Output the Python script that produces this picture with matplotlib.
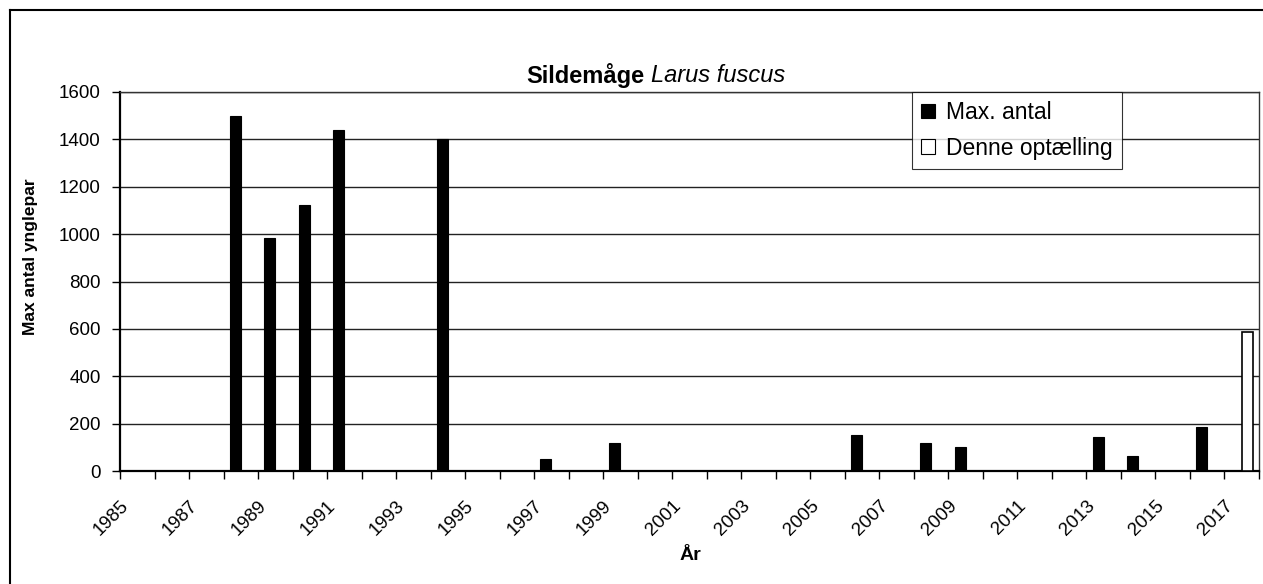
import numpy as np
import matplotlib
matplotlib.use("Agg")
import matplotlib.pyplot as plt
from matplotlib.patches import Patch
from matplotlib.lines import Line2D

# Sildemåge (Larus fuscus) - max antal ynglepar pr. år
years = list(range(1985, 2018))
max_years = [1988, 1989, 1990, 1991, 1994, 1997, 1999, 2006, 2008, 2009, 2013, 2014, 2016]
max_antal = [1500, 983, 1125, 1440, 1400, 50, 120, 152, 120, 100, 145, 65, 185]
denne_years = [2017]
denne_antal = [585]
yticks = [0, 200, 400, 600, 800, 1000, 1200, 1400, 1600]

plt.rcParams["font.family"] = ["Liberation Sans", "DejaVu Sans"]

W, H = 1263, 584
fig = plt.figure(figsize=(W / 100, H / 100), dpi=100)
ax = fig.add_axes([120 / W, 1 - 471 / H, (1259 - 120) / W, (471 - 92) / H])

n = len(years)
w = 0.32
xb = [years.index(y) - w / 2 for y in max_years]
xd = [years.index(y) + w / 2 for y in denne_years]
ax.bar(xb, max_antal, width=w, color="black", edgecolor="black", linewidth=0.8, zorder=3)
ax.bar(xd, denne_antal, width=w, color="white", edgecolor="black", linewidth=1.2, zorder=3)

ax.set_xlim(-0.5, n - 0.5)
ax.set_ylim(0, 1600)
ax.set_yticks(yticks)
ax.yaxis.grid(True, color="#222222", linewidth=1)
ax.set_axisbelow(True)
ax.tick_params(axis="y", labelsize=13.5, length=6, width=1, pad=8)

bounds = np.arange(n + 1) - 0.5
ax.set_xticks(bounds)
labels = [str(years[i]) if (i % 2 == 0 and i < n) else "" for i in range(n + 1)]
ax.set_xticklabels(labels, rotation=45, ha="right", va="top", rotation_mode="anchor")
ax.tick_params(axis="x", labelsize=13.5, length=6, width=1, pad=13)

for s in ["left", "bottom"]:
    ax.spines[s].set_linewidth(1.6)
for s in ["top", "right"]:
    ax.spines[s].set_linewidth(1.0)
    ax.spines[s].set_color("#333333")

handles = [Patch(facecolor="black", edgecolor="black", linewidth=0.8),
           Patch(facecolor="white", edgecolor="black", linewidth=0.8)]
leg = ax.legend(handles, ["Max. antal", "Denne optælling"], loc="upper left",
                bbox_to_anchor=((912 - 120) / (1259 - 120), 1.0), borderaxespad=0,
                fontsize=16.5, frameon=True, fancybox=False, handlelength=0.6,
                handleheight=0.6, handletextpad=0.5, labelspacing=0.55, borderpad=0.4)
leg.get_frame().set_edgecolor("black")
leg.get_frame().set_linewidth(0.8)

fig.text(644 / W, 1 - 75 / H, "Sildemåge", fontsize=17, fontweight="bold", ha="right", va="center")
fig.text(651 / W, 1 - 75 / H, "Larus fuscus", fontsize=17, fontstyle="italic", ha="left", va="center")
fig.text(31 / W, 1 - 257 / H, "Max antal ynglepar", fontsize=12.5, fontweight="bold",
         rotation=90, ha="center", va="center")
fig.text(690 / W, 1 - 555 / H, "År", fontsize=14, fontweight="bold", ha="center", va="center")

# outer frame (right and bottom edges are cut off in the original)
fig.add_artist(Line2D([10 / W, 10 / W], [0, 1 - 10 / H], color="black", linewidth=1.5))
fig.add_artist(Line2D([10 / W, 1], [1 - 10 / H, 1 - 10 / H], color="black", linewidth=1.5))

fig.savefig("out.png", dpi=100)
